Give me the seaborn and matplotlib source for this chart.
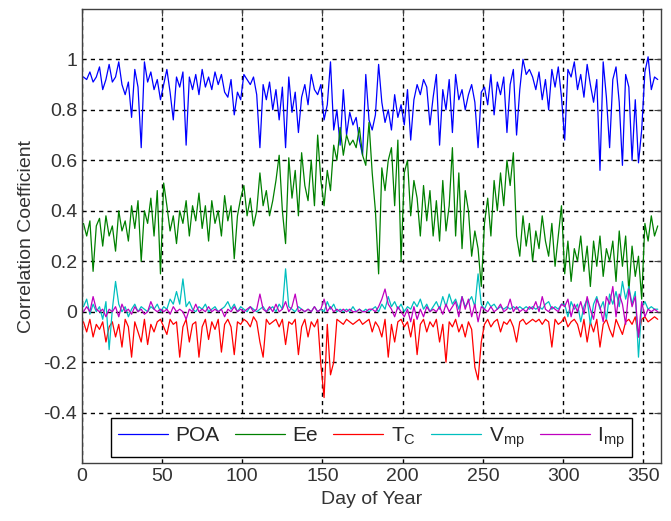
import matplotlib
matplotlib.use('Agg')
import matplotlib.pyplot as plt
import numpy as np
import pandas as pd
import seaborn as sns

# daily correlation coefficients, every second day (days 1, 3, ..., 359)
days = list(range(1, 361, 2))

poa = [0.93, 0.92, 0.95, 0.91, 0.93, 0.97, 0.88, 0.92, 0.98, 0.91,
       0.93, 0.99, 0.90, 0.86, 0.91, 0.77, 0.96, 0.89, 0.65, 0.99,
       0.91, 0.95, 0.88, 0.92, 0.84, 0.90, 0.96, 0.87, 0.76, 0.93,
       0.89, 0.95, 0.66, 0.93, 0.88, 0.94, 0.86, 0.96, 0.89, 0.93,
       0.88, 0.95, 0.90, 0.94, 0.87, 0.85, 0.92, 0.78, 0.87, 0.84,
       0.94, 0.92, 0.90, 0.93, 0.86, 0.65, 0.90, 0.84, 0.91, 0.80,
       0.88, 0.76, 0.89, 0.65, 0.93, 0.79, 0.87, 0.71, 0.85, 0.90,
       0.82, 0.94, 0.88, 0.86, 0.90, 0.76, 0.82, 0.99, 0.72, 0.80,
       0.66, 0.88, 0.70, 0.79, 0.74, 0.77, 0.68, 0.62, 0.94, 0.76,
       0.72, 0.78, 0.98, 0.83, 0.75, 0.80, 0.72, 0.86, 0.77, 0.82,
       0.74, 0.88, 0.68, 0.84, 0.90, 0.86, 0.92, 0.89, 0.74, 0.85,
       0.94, 0.66, 0.88, 0.80, 0.92, 0.71, 0.94, 0.84, 0.88, 0.80,
       0.86, 0.90, 0.83, 0.65, 0.87, 0.89, 0.82, 0.94, 0.78, 0.91,
       0.86, 0.93, 0.71, 0.90, 0.96, 0.70, 0.88, 1.00, 0.94, 0.96,
       0.93, 0.88, 0.95, 0.84, 0.92, 0.80, 0.96, 0.89, 0.97, 0.85,
       0.68, 0.96, 0.93, 0.99, 0.88, 0.94, 0.85, 0.98, 0.90, 0.83,
       0.92, 0.56, 0.99, 0.85, 0.65, 0.92, 0.97, 0.83, 0.58, 0.94,
       0.89, 0.60, 0.84, 0.59, 0.72, 0.95, 1.01, 0.88, 0.93, 0.92]

ee = [0.35, 0.30, 0.36, 0.16, 0.34, 0.37, 0.26, 0.38, 0.30, 0.34,
      0.24, 0.40, 0.32, 0.36, 0.28, 0.42, 0.33, 0.44, 0.20, 0.40,
      0.35, 0.45, 0.30, 0.48, 0.15, 0.51, 0.42, 0.32, 0.38, 0.27,
      0.40, 0.35, 0.44, 0.30, 0.42, 0.36, 0.47, 0.33, 0.42, 0.28,
      0.44, 0.35, 0.40, 0.30, 0.46, 0.36, 0.42, 0.21, 0.38, 0.45,
      0.50, 0.38, 0.45, 0.34, 0.40, 0.55, 0.42, 0.48, 0.38, 0.44,
      0.52, 0.62, 0.40, 0.27, 0.61, 0.45, 0.56, 0.38, 0.63, 0.50,
      0.44, 0.60, 0.42, 0.70, 0.52, 0.42, 0.56, 0.48, 0.66, 0.60,
      0.73, 0.62, 0.70, 0.66, 0.68, 0.65, 0.73, 0.62, 0.58, 0.75,
      0.55, 0.40, 0.15, 0.57, 0.48, 0.60, 0.65, 0.42, 0.68, 0.20,
      0.55, 0.60, 0.38, 0.52, 0.45, 0.30, 0.50, 0.36, 0.48, 0.30,
      0.44, 0.28, 0.52, 0.32, 0.42, 0.65, 0.30, 0.55, 0.25, 0.48,
      0.40, 0.22, 0.32, 0.25, 0.10, 0.35, 0.45, 0.30, 0.52, 0.40,
      0.55, 0.42, 0.60, 0.50, 0.63, 0.30, 0.22, 0.38, 0.26, 0.35,
      0.20, 0.32, 0.25, 0.38, 0.28, 0.22, 0.35, 0.18, 0.30, 0.42,
      0.15, 0.28, 0.12, 0.25, 0.20, 0.30, 0.16, 0.26, 0.10, 0.28,
      0.18, 0.30, 0.14, 0.25, 0.20, 0.28, 0.12, 0.32, 0.18, 0.30,
      0.08, 0.26, 0.14, 0.22, 0.05, 0.35, 0.28, 0.38, 0.30, 0.34]

tc = [-0.04, -0.08, -0.03, -0.10, -0.05, -0.07, -0.04, -0.12, -0.06, -0.04,
      -0.10, -0.05, -0.14, -0.03, -0.06, -0.18, -0.04, -0.08, -0.12, -0.03,
      -0.13, -0.05, -0.08, -0.04, -0.03, -0.06, -0.09, -0.03, -0.05, -0.04,
      -0.18, -0.06, -0.03, -0.12, -0.05, -0.04, -0.18, -0.06, -0.03, -0.11,
      -0.04, -0.07, -0.03, -0.16, -0.05, -0.03, -0.06, -0.17, -0.04, -0.05,
      -0.03, -0.04, -0.06, -0.02, -0.04, -0.12, -0.18, -0.03, -0.05, -0.04,
      -0.03, -0.06, -0.03, -0.13, -0.04, -0.05, -0.03, -0.17, -0.06, -0.03,
      -0.10, -0.04, -0.06, -0.03, -0.21, -0.34, -0.05, -0.25, -0.20, -0.03,
      -0.04, -0.05, -0.03, -0.04, -0.05, -0.04, -0.03, -0.05, -0.04, -0.03,
      -0.08, -0.04, -0.06, -0.10, -0.03, -0.18, -0.05, -0.12, -0.04, -0.03,
      -0.06, -0.04, -0.10, -0.03, -0.17, -0.05, -0.03, -0.08, -0.04, -0.06,
      -0.03, -0.12, -0.05, -0.20, -0.04, -0.06, -0.03, -0.08, -0.05, -0.10,
      -0.04, -0.07, -0.22, -0.27, -0.12, -0.05, -0.03, -0.06, -0.04, -0.03,
      -0.08, -0.04, -0.05, -0.03, -0.06, -0.12, -0.04, -0.03, -0.05, -0.04,
      -0.03, -0.04, -0.03, -0.05, -0.03, -0.04, -0.14, -0.03, -0.05, -0.04,
      -0.02, -0.06, -0.04, -0.03, -0.05, -0.10, -0.03, -0.12, -0.04, -0.08,
      -0.03, -0.14, -0.05, -0.03, -0.07, -0.10, -0.03, -0.06, -0.09, -0.04,
      -0.03, -0.05, -0.02, -0.10, -0.03, -0.02, -0.04, -0.03, -0.02, -0.03]

vmp = [0.02, 0.05, -0.01, 0.03, 0.00, 0.02, -0.03, 0.04, -0.15, 0.01,
       0.12, 0.03, 0.00, 0.02, -0.02, 0.01, 0.03, 0.00, 0.02, 0.01,
       0.00, 0.02, 0.01, 0.03, 0.00, 0.02, 0.01, 0.05, 0.03, 0.08,
       0.03, 0.13, 0.02, 0.04, 0.01, 0.00, 0.02, 0.01, 0.03, 0.00,
       0.01, 0.02, 0.00, 0.01, 0.02, 0.04, 0.01, 0.03, 0.00, 0.02,
       0.01, 0.00, 0.02, 0.01, 0.00, 0.01, 0.02, 0.00, 0.01, 0.02,
       0.00, 0.03, 0.01, 0.17, 0.02, 0.01, 0.00, 0.02, 0.01, 0.00,
       0.01, 0.00, 0.02, 0.00, 0.01, 0.00, 0.04, 0.01, 0.03, 0.00,
       0.01, 0.00, 0.01, 0.00, 0.02, 0.00, 0.01, 0.00, 0.01, 0.00,
       0.01, 0.02, 0.00, 0.03, 0.01, 0.06, 0.02, 0.04, 0.01, 0.03,
       0.00, 0.02, 0.01, 0.04, 0.02, 0.05, 0.01, 0.03, 0.00, 0.02,
       0.04, 0.01, 0.06, 0.02, 0.07, 0.03, 0.05, 0.01, 0.06, 0.02,
       0.04, 0.06, 0.02, 0.15, 0.03, 0.01, 0.04, 0.02, 0.03, 0.01,
       0.02, 0.01, 0.02, 0.01, 0.02, 0.01, 0.02, 0.01, 0.02, 0.01,
       0.02, 0.01, 0.02, 0.01, 0.03, 0.04, 0.01, 0.02, 0.01, 0.03,
       0.03, -0.02, 0.04, 0.01, 0.03, -0.04, 0.02, 0.05, -0.05, 0.03,
       0.06, 0.01, 0.04, -0.03, 0.07, 0.03, 0.08, 0.02, 0.12, 0.05,
       0.10, 0.03, 0.08, -0.18, 0.02, 0.04, 0.01, 0.02, 0.01, 0.01]

imp = [0.00, 0.02, 0.00, 0.06, 0.01, 0.00, 0.01, -0.02, 0.01, 0.00,
       0.02, -0.02, 0.03, 0.00, 0.01, -0.01, 0.02, 0.00, 0.01, -0.01,
       0.00, 0.04, 0.01, 0.00, 0.01, 0.00, 0.01, -0.01, 0.02, 0.00,
       0.01, 0.00, -0.03, 0.01, 0.00, 0.03, 0.00, 0.01, 0.00, 0.02,
       0.00, 0.01, 0.00, 0.01, -0.02, 0.01, 0.00, 0.02, 0.00, 0.01,
       0.00, 0.01, 0.02, 0.00, 0.01, 0.07, 0.01, 0.00, 0.02, 0.00,
       0.03, 0.00, 0.01, 0.04, 0.00, 0.02, 0.07, 0.00, 0.01, 0.00,
       0.01, 0.00, 0.02, 0.00, 0.01, 0.05, 0.00, 0.02, 0.00, 0.01,
       0.00, 0.01, 0.00, 0.01, 0.00, 0.00, 0.01, 0.00, 0.00, 0.01,
       0.01, 0.00, 0.02, 0.05, 0.09, 0.03, 0.01, -0.02, 0.02, 0.00,
       -0.02, 0.01, -0.04, 0.02, -0.03, 0.01, -0.02, 0.02, 0.00, 0.01,
       0.00, 0.02, -0.01, 0.03, 0.00, 0.02, 0.04, -0.02, 0.06, 0.01,
       0.05, -0.02, 0.03, -0.04, 0.02, 0.01, 0.00, 0.02, 0.00, 0.01,
       0.03, 0.00, 0.01, 0.05, 0.00, 0.02, 0.00, 0.01, 0.00, 0.02,
       0.01, 0.04, 0.00, 0.06, 0.01, 0.00, 0.02, 0.01, 0.00, 0.03,
       0.02, 0.05, -0.02, 0.03, 0.00, 0.04, -0.01, 0.06, 0.01, -0.03,
       0.05, 0.02, -0.04, 0.06, 0.03, 0.10, -0.02, 0.07, 0.03, -0.05,
       0.09, 0.02, 0.06, -0.10, 0.04, -0.02, 0.01, 0.00, 0.01, 0.00]

series_names = ['POA', 'Ee', 'Tc', 'Vmp', 'Imp']
legend_labels = ['POA', 'Ee', r'T$_\mathregular{C}$', r'V$_\mathregular{mp}$', r'I$_\mathregular{mp}$']
colors = ['#0000ff', '#008000', '#ff0000', '#00bfbf', '#bf00bf']

df = pd.DataFrame({'day': days, 'POA': poa, 'Ee': ee, 'Tc': tc, 'Vmp': vmp, 'Imp': imp})
long_df = df.melt(id_vars='day', var_name='series', value_name='r')

sns.set_style('white')
plt.rcParams['font.family'] = ['Liberation Sans', 'DejaVu Sans']
plt.rcParams['mathtext.fontset'] = 'custom'
plt.rcParams['mathtext.rm'] = 'Liberation Sans'

fig, ax = plt.subplots(figsize=(6.71, 5.21), dpi=100)
fig.subplots_adjust(left=0.122, right=0.985, top=0.983, bottom=0.111)

sns.lineplot(data=long_df, x='day', y='r', hue='series', hue_order=series_names,
             palette=dict(zip(series_names, colors)), linewidth=0.9, ax=ax,
             estimator=None, sort=False)

ax.set_xlim(0, 361)
ax.set_ylim(-0.6, 1.2)
ax.set_xticks(np.arange(0, 351, 50))
yt = np.round(np.arange(-0.4, 1.01, 0.2), 1)
ax.set_yticks(yt)
ax.set_yticklabels(['%g' % v for v in yt])
ax.grid(True, color='k', linestyle=(0, (3, 3)), linewidth=1.0)
ax.set_axisbelow(True)
ax.tick_params(direction='in', top=True, right=True, length=5, labelsize=14,
               colors='0.25', labelcolor='0.2')
for sp in ax.spines.values():
    sp.set_color('0.25')
    sp.set_linewidth(1.0)

ax.set_xlabel('Day of Year', fontsize=14, color='0.2')
ax.set_ylabel('Correlation Coefficient', fontsize=14, color='0.2', labelpad=6)

handles, _ = ax.get_legend_handles_labels()
leg = ax.legend(handles, legend_labels, ncol=5, loc='lower center',
                bbox_to_anchor=(0.5, 0.013), borderaxespad=0, fontsize=15,
                frameon=True, fancybox=False, framealpha=1, edgecolor='k',
                handlelength=2.4, handletextpad=0.35, columnspacing=0.75,
                borderpad=0.35)
leg.get_frame().set_linewidth(1.0)

fig.savefig('out.png', dpi=100)
